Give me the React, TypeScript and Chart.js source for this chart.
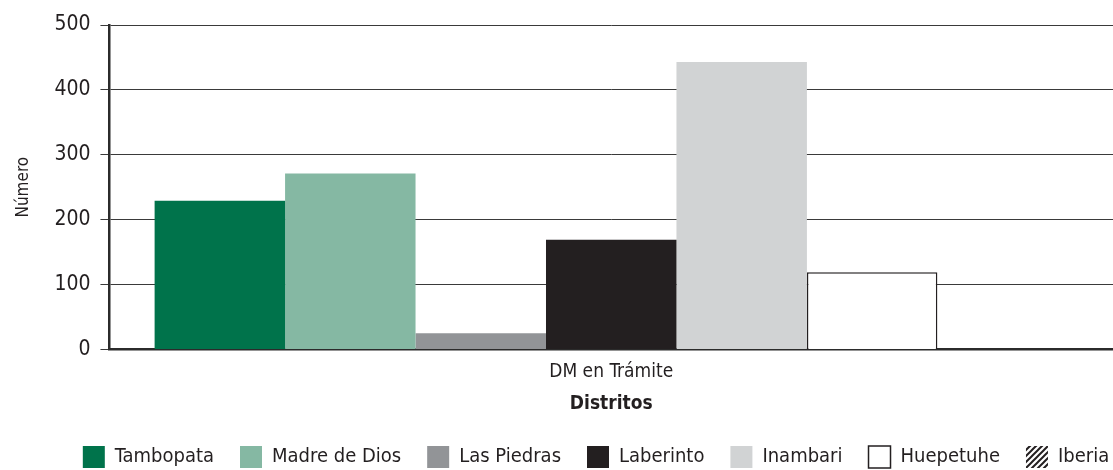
import React, { useEffect, useRef } from "react";
import { Chart, registerables } from "chart.js";

Chart.register(...registerables);

const categories = ["DM en Trámite"];
const seriesNames = ["Tambopata", "Madre de Dios", "Las Piedras", "Laberinto", "Inambari", "Huepetuhe", "Iberia"];
const tambopata = [229];
const madreDeDios = [271];
const lasPiedras = [25];
const laberinto = [169];
const inambari = [443];
const huepetuhe = [119];
const iberia = [0];
const yTicks = [0, 100, 200, 300, 400, 500];

const FONT = "'Liberation Sans Narrow', 'DejaVu Sans Condensed', 'Arial Narrow', sans-serif";
const DARK = "#231f20";

function makeHatch(): CanvasPattern | string {
  const c = document.createElement("canvas");
  c.width = 6;
  c.height = 6;
  const ctx = c.getContext("2d");
  if (!ctx) return DARK;
  ctx.fillStyle = "#ffffff";
  ctx.fillRect(0, 0, 6, 6);
  ctx.strokeStyle = DARK;
  ctx.lineWidth = 2;
  ctx.beginPath();
  ctx.moveTo(-1, 7);
  ctx.lineTo(7, -1);
  ctx.moveTo(-4, 4);
  ctx.lineTo(4, -4);
  ctx.moveTo(2, 10);
  ctx.lineTo(10, 2);
  ctx.stroke();
  return ctx.createPattern(c, "repeat") || DARK;
}

const legendShift = {
  id: "legendShift",
  afterLayout(chart: any) {
    const lg = chart.legend;
    if (lg) {
      lg.left += 33;
      lg.right += 33;
    }
  },
};

export default function App() {
  const ref = useRef<HTMLCanvasElement | null>(null);
  useEffect(() => {
    document.body.style.margin = "0";
    if (!ref.current) return;
    const hatch = makeHatch();
    const values = [tambopata, madreDeDios, lasPiedras, laberinto, inambari, huepetuhe, iberia];
    const fills: any[] = ["#00734b", "#85b8a3", "#929497", DARK, "#d1d3d4", "#ffffff", hatch];
    const datasets = values.map((v, i) => ({
      label: seriesNames[i],
      data: v,
      backgroundColor: fills[i],
      borderColor: DARK,
      borderWidth: i === 5 ? 1.5 : 0,
      barPercentage: 1,
      categoryPercentage: 0.91,
    }));
    const chart = new Chart(ref.current, {
      type: "bar",
      data: { labels: categories, datasets },
      plugins: [legendShift],
      options: {
        animation: false,
        responsive: true,
        maintainAspectRatio: false,
        layout: { padding: { top: 25, right: 0, left: 13, bottom: -8 } },
        plugins: {
          tooltip: { enabled: false },
          legend: {
            position: "bottom",
            labels: {
              font: { family: FONT, size: 20 },
              color: DARK,
              boxWidth: 22,
              boxHeight: 22,
              padding: 26,
            },
          },
        },
        scales: {
          x: {
            grid: { display: false },
            border: { color: "#2b2b2b", width: 2.5 },
            ticks: { font: { family: FONT, size: 19 }, color: DARK, padding: 3 },
            title: {
              display: true,
              text: "Distritos",
              font: { family: FONT, size: 19, weight: "bold" },
              color: DARK,
              padding: { top: 6, bottom: 5 },
            },
          },
          y: {
            min: 0,
            max: 500,
            afterBuildTicks: (axis: any) => {
              axis.ticks = yTicks.map((v) => ({ value: v }));
            },
            grid: { color: "#3a3a3a", lineWidth: 1, tickLength: 9, drawTicks: true },
            border: { color: "#2b2b2b", width: 2.5 },
            ticks: { font: { family: FONT, size: 21 }, color: DARK, padding: 10 },
            title: {
              display: true,
              text: "Número",
              font: { family: FONT, size: 17 },
              color: DARK,
              padding: { top: 0, bottom: 11 },
            },
          },
        },
      },
    });
    return () => chart.destroy();
  }, []);
  return (
    <div style={{ width: 1113, height: 470, position: "relative" }}>
      <canvas ref={ref} />
    </div>
  );
}
